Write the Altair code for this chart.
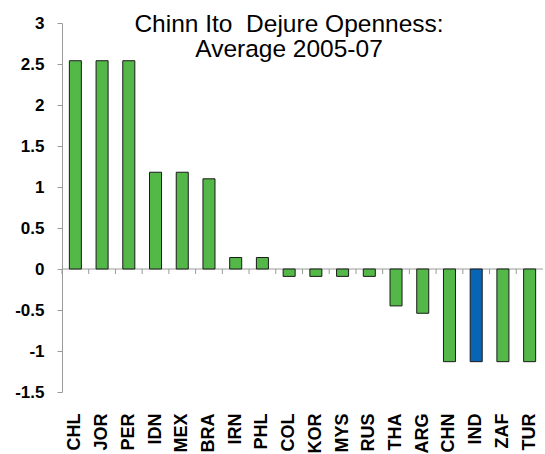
import altair as alt
import pandas as pd

# Chinn-Ito de jure capital account openness, 2005-07 average
countries = ["CHL", "JOR", "PER", "IDN", "MEX", "BRA", "IRN", "PHL", "COL",
             "KOR", "MYS", "RUS", "THA", "ARG", "CHN", "IND", "ZAF", "TUR"]
values = [2.54, 2.54, 2.54, 1.18, 1.18, 1.10, 0.14, 0.14, -0.09,
          -0.09, -0.09, -0.09, -0.45, -0.54, -1.13, -1.13, -1.13, -1.13]
highlight = "IND"
y_ticks = [-1.5, -1, -0.5, 0, 0.5, 1, 1.5, 2, 2.5, 3]
title_lines = ["Chinn Ito\u00a0 Dejure Openness:", "Average 2005-07"]

df = pd.DataFrame({"country": countries, "value": values})

W, H = 481, 369
Y_MIN, Y_MAX = -1.5, 3
TICK = 5
TICK_DATA = TICK * (Y_MAX - Y_MIN) / H  # separator length in data units

font = "Liberation Sans"
grey = "#9a9a9a"

y_scale = alt.Scale(domain=[Y_MIN, Y_MAX], nice=False, zero=False)

bars = alt.Chart(df).mark_bar(stroke="#1a1a1a", strokeWidth=1).encode(
    x=alt.X(
        "country:N", sort=countries,
        scale=alt.Scale(paddingInner=0.55, paddingOuter=0.275),
        axis=alt.Axis(
            orient="bottom", title=None, labelAngle=-90,
            domain=False, ticks=False, labelPadding=21,
            labelFont=font, labelFontSize=18, labelFontWeight="bold",
            labelColor="#000000",
        ),
    ),
    y=alt.Y(
        "value:Q", scale=y_scale,
        axis=alt.Axis(
            values=y_ticks, labelExpr="'' + datum.value", title=None,
            grid=False, domainColor=grey, tickColor=grey, tickSize=TICK,
            labelPadding=13, labelFont=font, labelFontSize=17,
            labelFontWeight="bold", labelColor="#000000",
        ),
    ),
    color=alt.condition(alt.datum.country == highlight,
                        alt.value("#0865b5"), alt.value("#54b848")),
)

# horizontal axis line at zero
zero_line = alt.Chart(pd.DataFrame({"t": [0]})).mark_rule(
    color=grey, strokeWidth=1,
).encode(
    x=alt.value(0), x2=alt.value(W), y=alt.datum(0),
)

# small separators hanging below the zero line, between categories
separators = alt.Chart(df).mark_rule(color=grey, strokeWidth=1).encode(
    x=alt.X("country:N", sort=countries, bandPosition=0,
            scale=alt.Scale(paddingInner=0, paddingOuter=0), axis=None),
    y=alt.datum(0),
    y2=alt.datum(-TICK_DATA),
)

title = alt.Chart(pd.DataFrame({"t": [0]})).mark_text(
    font=font, fontSize=24.5, color="#000000", align="center",
    baseline="alphabetic", lineHeight=25,
).encode(
    x=alt.value(227), y=alt.value(9), text=alt.value(title_lines),
)

chart = (
    alt.layer(zero_line, separators, bars, title)
    .resolve_scale(x="independent")
    .properties(
        width=W, height=H,
        autosize=alt.AutoSizeParams(type="none"),
        padding={"left": 62, "top": 23, "right": 2, "bottom": 62},
    )
    .configure_view(stroke=None)
)

chart.save("out.html", embed_options={"renderer": "svg", "actions": False})
